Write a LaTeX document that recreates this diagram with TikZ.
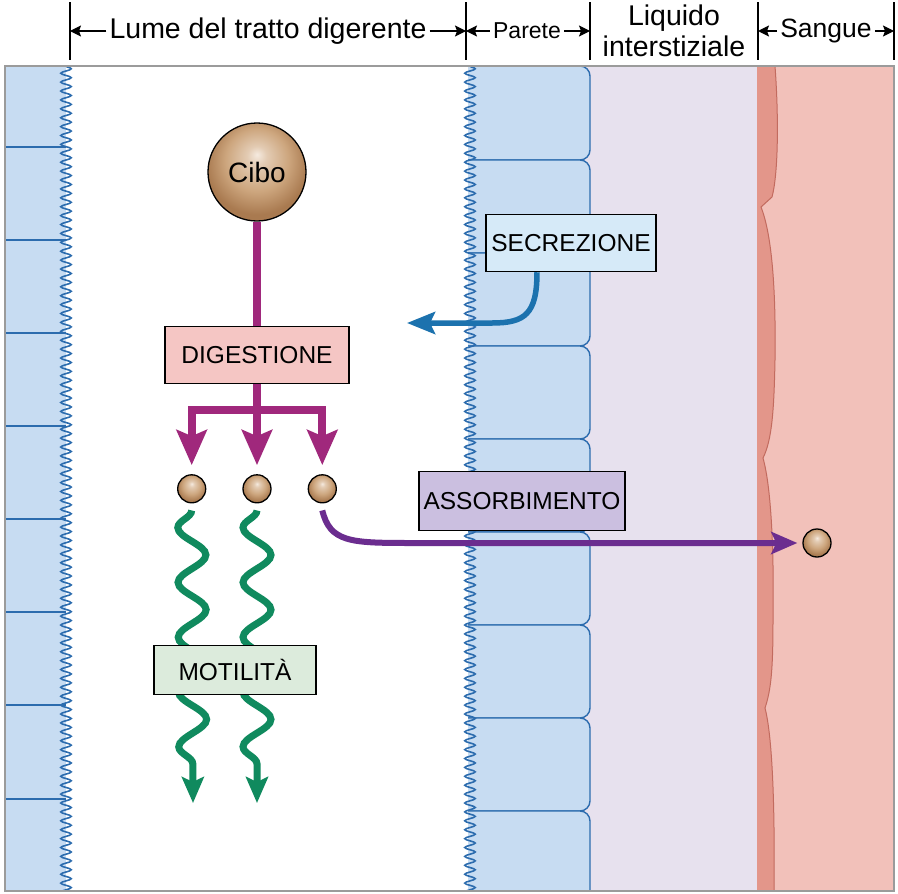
\documentclass[tikz,border=0pt]{standalone}
\usepackage{fontspec}
\setmainfont{Liberation Sans}
\usetikzlibrary{arrows.meta, positioning, decorations.pathmorphing}
\definecolor{cellblue}{HTML}{C7DCF2}
\definecolor{cellline}{HTML}{2C6CAE}
\definecolor{fluid}{HTML}{E7E1EE}
\definecolor{blood}{HTML}{F2C1BA}
\definecolor{capwall}{HTML}{E3968A}
\definecolor{capline}{HTML}{C26B5F}
\definecolor{framegray}{HTML}{9B9B9B}
\definecolor{beadhi}{HTML}{F5EADF}
\definecolor{beadmid}{HTML}{CDA67E}
\definecolor{beadlo}{HTML}{A97A50}
\definecolor{digcol}{HTML}{A0287C}
\definecolor{digfill}{HTML}{F5C6C4}
\definecolor{seccol}{HTML}{1C72AE}
\definecolor{secfill}{HTML}{D6EAF8}
\definecolor{abscol}{HTML}{6B2D8F}
\definecolor{absfill}{HTML}{CBBFE0}
\definecolor{motcol}{HTML}{108A5E}
\definecolor{motfill}{HTML}{DCEBDC}
\pgfdeclareradialshading{beadshade}{\pgfpoint{0bp}{9bp}}{color(0bp)=(beadhi); color(5bp)=(beadhi!55!beadmid); color(16bp)=(beadmid); color(26bp)=(beadlo); color(50bp)=(beadlo)}
\tikzset{
  tag/.style={rectangle, draw, line width=1.5pt, minimum height=57pt, inner sep=2pt, font=\fontsize{24.5}{28}\selectfont},
  head/.style={inner sep=3pt, font=\fontsize{28.5}{31}\selectfont},
  bead/.style={circle, draw, line width=1.3pt, minimum size=28pt, inner sep=0pt, shading=beadshade},
  tick/.style={line width=1.4pt},
  hdr/.style={-{Stealth[length=11pt, width=11pt, inset=2pt]}, line width=1.3pt},
  villi/.style={cellline, line width=1.6pt, decorate, decoration={snake, segment length=8.9pt, amplitude=5.2pt}},
  cell/.style={fill=cellblue, draw=cellline, line width=1.4pt, rounded corners=10pt},
  dig/.style={digcol, line width=8pt},
  digarrow/.style={dig, shorten >=9pt, -{Stealth[length=35pt, width=30pt, inset=6pt]}},
  sec/.style={seccol, line width=5.5pt, -{Stealth[length=28pt, width=22pt, inset=5pt]}},
  abs/.style={abscol, line width=6pt, shorten >=5pt, -{Stealth[length=26pt, width=22pt, inset=5pt]}},
  mot/.style={motcol, line width=7pt, -{Stealth[length=26pt, width=22pt, inset=5pt]}, decorate, decoration={snake, segment length=54.8pt, amplitude=-14pt, post length=22pt}},
}

\begin{document}
\begin{tikzpicture}[x=1pt, y=-1pt]
    \path[use as bounding box, fill=white] (0,0) rectangle (898,894);

    % header
    \foreach \x/\n in {70/k1, 466/k2, 590/k3, 758/k4, 894/k5} {
      \draw[tick] (\x,2) -- (\x,60);
      \coordinate (\n) at (\x,31);
    }
    \node[head] (lume) at (268,31) {Lume del tratto digerente};
    \node[head, font=\fontsize{23}{26}\selectfont] (parete) at (527,31) {Parete};
    \node[head, align=center] (liq) at (674,31) {Liquido\\interstiziale};
    \node[head, font=\fontsize{26.5}{29}\selectfont] (sangue) at (826,31) {Sangue};
    \draw[hdr] (lume) -- (k1);
    \draw[hdr] (lume) -- (k2);
    \draw[hdr] (parete) -- (k2);
    \draw[hdr] (parete) -- (k3);
    \draw[hdr] (sangue) -- (k4);
    \draw[hdr] (sangue) -- (k5);

    % tissue layers
    \begin{scope}
      \clip (5,66) rectangle (894,891);
      \fill[cellblue] (5,66) rectangle (66,891);
      \foreach \y in {147,240,333,426,519,612,705,799}
        \draw[cellline, line width=1.4pt] (5,\y) -- (66,\y);
      \draw[villi] (66,66) -- (66,900);
      \fill[fluid] (560,66) rectangle (758,891);
      \fill[blood] (758,66) rectangle (894,891);
      \path[fill=capwall, draw=capline, line width=1pt] (757,66) -- (775,66)
        .. controls (779,120) and (778,175) .. (772,197) -- (761,207)
        .. controls (772,235) and (776,290) .. (775,360)
        .. controls (774,410) and (772,440) .. (763,458)
        .. controls (772,490) and (774,560) .. (773,620)
        .. controls (773,670) and (771,690) .. (765,708)
        .. controls (772,735) and (775,800) .. (774,891) -- (757,891);
      \foreach \a/\b in {66/160, 160/253, 253/346, 346/439, 439/532, 532/625, 625/718, 718/811, 811/905}
        \draw[cell] (468,\a) -- (590,\a) -- (590,\b) -- (468,\b);
      \draw[villi] (470,66) -- (470,900);
    \end{scope}
    \draw[framegray, line width=1.5pt] (5,66) rectangle (894,891);

    % digestion
    \node[bead, minimum size=98pt, font=\fontsize{28}{30}\selectfont] (cibo) at (257,172) {Cibo};
    \node[tag, fill=digfill, minimum width=184pt, below=104pt of cibo] (digest) {DIGESTIONE};
    \node[bead, below=90pt of digest] (b2) {};
    \node[bead, left=36pt of b2] (b1) {};
    \node[bead, right=36pt of b2] (b3) {};
    \coordinate (fork) at (257,410);
    \draw[dig] (cibo) -- (digest);
    \draw[dig] (digest) -- (fork);
    \draw[digarrow] (fork) -| (b1);
    \draw[digarrow] (fork) -- (b2);
    \draw[digarrow] (fork) -| (b3);

    % motility
    \coordinate (m1) at (193,803);
    \coordinate (m2) at (257,803);
    \draw[mot] ([yshift=-7pt]b1.south) -- (m1);
    \draw[mot] ([yshift=-7pt]b2.south) -- (m2);
    \node[tag, fill=motfill, minimum width=162pt, minimum height=49pt] (motil) at (235,670) {MOTILITÀ};

    % secretion
    \node[tag, fill=secfill, minimum width=170pt] (secr) at (571,243) {SECREZIONE};
    \coordinate (sx) at (407,323);
    \draw[sec] ([xshift=-34pt]secr.south) .. controls (537,314) and (525,323) .. (492,323) -- (sx);

    % absorption
    \node[tag, fill=absfill, minimum width=206pt, minimum height=59pt] (assorb) at (522,501) {ASSORBIMENTO};
    \node[bead] (bb) at (817,543) {};
    \draw[abs] ([yshift=-7pt]b3.south) .. controls (330,542) and (350,543) .. (410,543) -- (bb);
\end{tikzpicture}
\end{document}
